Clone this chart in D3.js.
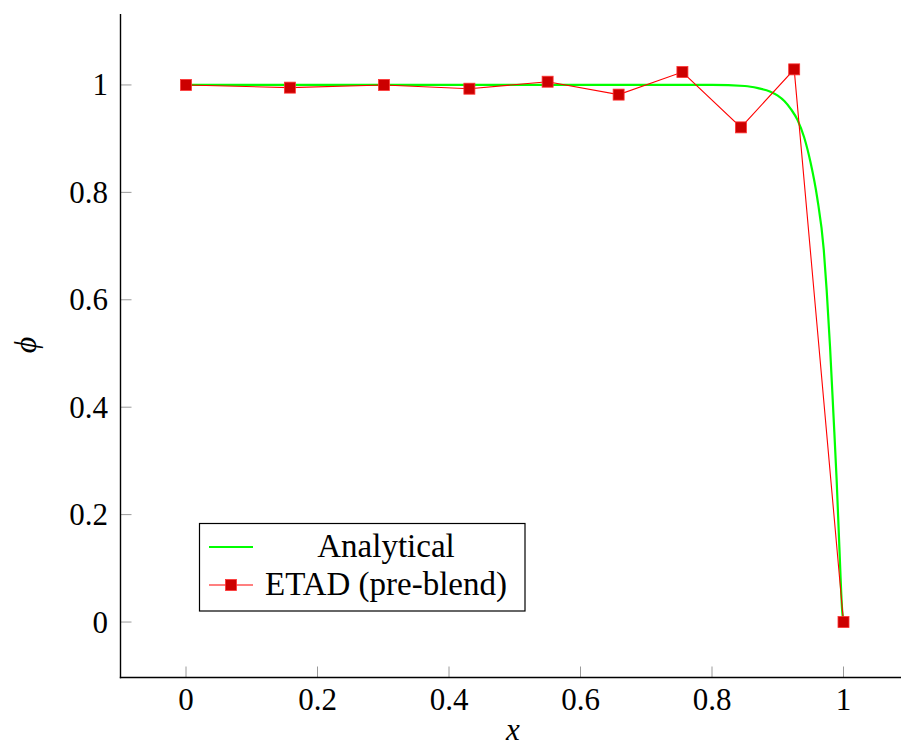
<!DOCTYPE html>
<html>
<head>
<meta charset="utf-8">
<script src="https://cdn.jsdelivr.net/npm/d3@7"></script>
<style>
  html, body { margin: 0; padding: 0; background: #fff; }
  svg text { fill: #000; }
</style>
</head>
<body>
<svg id="chart" width="901" height="746"></svg>
<script>
// analytical solution
const analyticalX = [0, 0.80, 0.85, 0.87, 0.888, 0.90, 0.91, 0.92, 0.93, 0.94, 0.95, 0.96,
  0.97, 0.9744, 0.9795, 0.9846, 0.9896, 0.9937, 0.9983, 1];
const analyticalY = [1, 1, 0.998, 0.994, 0.988, 0.980, 0.970, 0.955, 0.935, 0.903, 0.855, 0.79,
  0.693, 0.618, 0.513, 0.389, 0.264, 0.140, 0.016, 0];

// ETAD (pre-blend) nodes
const etadX = [0, 0.158, 0.301, 0.431, 0.55, 0.658, 0.755, 0.844, 0.925, 1];
const etadY = [1, 0.995, 1.0, 0.993, 1.006, 0.982, 1.024, 0.921, 1.029, 0];

const xTicks = [0, 0.2, 0.4, 0.6, 0.8, 1];
const yTicks = [0, 0.2, 0.4, 0.6, 0.8, 1];
const legendLabels = ['Analytical', 'ETAD (pre-blend)'];

const serif = 'Liberation Serif, Tinos, Noto Serif, DejaVu Serif, serif';
const svg = d3.select('#chart');

// enlarge limits by 10% like pgfplots does
const yMin = 0, yMax = d3.max(etadY);
const yPad = (yMax - yMin) * 0.1;

const x = d3.scaleLinear().domain([-0.1, 1.1]).range([120.25, 909.25]);
const y = d3.scaleLinear().domain([yMin - yPad, yMax + yPad]).range([677.3, 14.1]);

const g = svg.append('g');

// ticks (inside, grey)
g.selectAll('.xtick').data(xTicks).enter().append('line')
  .attr('x1', d => x(d)).attr('x2', d => x(d))
  .attr('y1', 677.5).attr('y2', 666.5)
  .attr('stroke', '#9a9a9a').attr('stroke-width', 1);
g.selectAll('.ytick').data(yTicks).enter().append('line')
  .attr('y1', d => y(d)).attr('y2', d => y(d))
  .attr('x1', 120.5).attr('x2', 131.5)
  .attr('stroke', '#9a9a9a').attr('stroke-width', 1);

// axis lines: left and bottom only
g.append('line').attr('x1', 120.5).attr('x2', 120.5)
  .attr('y1', y.range()[1]).attr('y2', 678.2)
  .attr('stroke', '#000').attr('stroke-width', 1.4);
g.append('line').attr('x1', 119.8).attr('x2', 910)
  .attr('y1', 677.5).attr('y2', 677.5)
  .attr('stroke', '#000').attr('stroke-width', 1.4);

// tick labels
g.selectAll('.xlab').data(xTicks).enter().append('text')
  .attr('x', d => x(d)).attr('y', 710)
  .attr('text-anchor', 'middle').style('font-family', serif).style('font-size', '31px')
  .text(d => d3.format('~g')(d));
g.selectAll('.ylab').data(yTicks).enter().append('text')
  .attr('x', 108).attr('y', d => y(d) + 10.5)
  .attr('text-anchor', 'end').style('font-family', serif).style('font-size', '31px')
  .text(d => d3.format('~g')(d));

// axis labels
g.append('text').attr('x', 513).attr('y', 740)
  .attr('text-anchor', 'middle').style('font-family', serif)
  .style('font-size', '31px').style('font-style', 'italic')
  .text('x');
g.append('text').attr('transform', 'translate(36,345) rotate(-90)')
  .attr('text-anchor', 'middle').style('font-family', serif)
  .style('font-size', '32px').style('font-style', 'italic')
  .text('ϕ');

const analytical = analyticalX.map((d, i) => [d, analyticalY[i]]);
const etad = etadX.map((d, i) => [d, etadY[i]]);

const smooth = d3.line().x(d => x(d[0])).y(d => y(d[1])).curve(d3.curveMonotoneX);
const straight = d3.line().x(d => x(d[0])).y(d => y(d[1]));

g.append('path').datum(analytical)
  .attr('d', smooth).attr('fill', 'none')
  .attr('stroke', '#00ff00').attr('stroke-width', 2.2);

g.append('path').datum(etad)
  .attr('d', straight).attr('fill', 'none')
  .attr('stroke', '#ff0000').attr('stroke-width', 1.1);

const ms = 11;
g.selectAll('.mark').data(etad).enter().append('rect')
  .attr('x', d => x(d[0]) - ms / 2).attr('y', d => y(d[1]) - ms / 2)
  .attr('width', ms).attr('height', ms)
  .attr('fill', '#cc0000').attr('stroke', '#ff3333').attr('stroke-width', 0.8);

// legend
const leg = svg.append('g');
leg.append('rect').attr('x', 199.5).attr('y', 523.5).attr('width', 325.5).attr('height', 87.5)
  .attr('fill', '#fff').attr('stroke', '#000').attr('stroke-width', 1.2);

leg.append('line').attr('x1', 209).attr('x2', 253).attr('y1', 547).attr('y2', 547)
  .attr('stroke', '#00ff00').attr('stroke-width', 2.2);
leg.append('line').attr('x1', 209).attr('x2', 253).attr('y1', 585).attr('y2', 585)
  .attr('stroke', '#ff0000').attr('stroke-width', 1.1);
leg.append('rect').attr('x', 231 - ms / 2).attr('y', 585 - ms / 2)
  .attr('width', ms).attr('height', ms)
  .attr('fill', '#cc0000').attr('stroke', '#ff3333').attr('stroke-width', 0.8);

leg.selectAll('.ltext').data(legendLabels).enter().append('text')
  .attr('x', 386).attr('y', (d, i) => 557 + i * 38)
  .attr('text-anchor', 'middle').style('font-family', serif).style('font-size', '33px')
  .text(d => d);
</script>
</body>
</html>
